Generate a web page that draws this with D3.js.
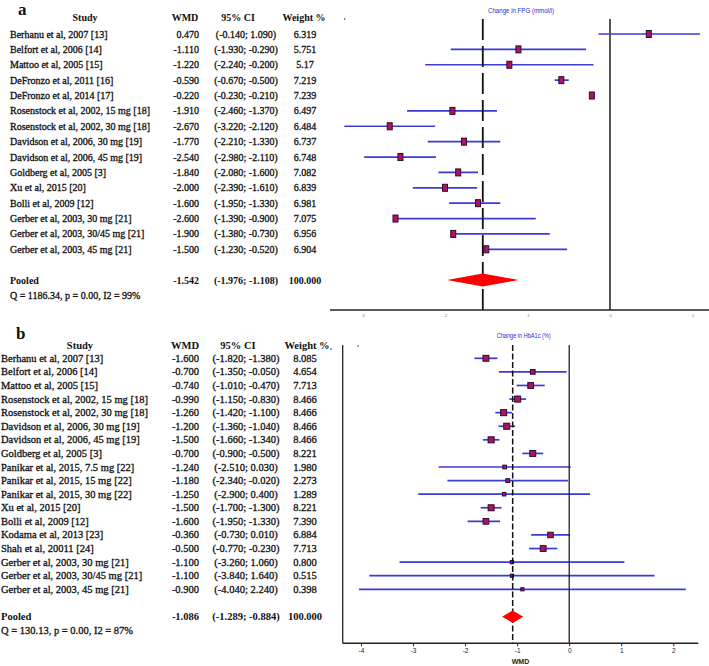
<!DOCTYPE html>
<html>
<head>
<meta charset="utf-8">
<script src="https://cdn.jsdelivr.net/npm/d3@7"></script>
<style>
  html, body { margin: 0; padding: 0; background: #fff; }
  svg { display: block; }
  .tbl { font-family: "Liberation Serif", "Times New Roman", serif; fill: #111; }
  .thick { stroke: #111; stroke-width: 0.3px; }
</style>
</head>
<body>
<svg id="chart" width="709" height="666"></svg>
<script>
// ---------------- Panel a: Change in FPG ----------------
const studiesA = ["Berhanu et al, 2007 [13]", "Belfort et al, 2006 [14]", "Mattoo et al, 2005 [15]",
  "DeFronzo et al, 2011 [16]", "DeFronzo et al, 2014 [17]", "Rosenstock et al, 2002, 15 mg [18]",
  "Rosenstock et al, 2002,  30 mg [18]", "Davidson et al, 2006, 30 mg [19]", "Davidson et al, 2006, 45 mg [19]",
  "Goldberg et al, 2005 [3]", "Xu et al, 2015 [20]", "Bolli et al, 2009 [12]",
  "Gerber et al, 2003, 30 mg [21]", "Gerber et al, 2003, 30/45 mg [21]", "Gerber et al, 2003, 45 mg [21]"];
const wmdA = [0.470, -1.110, -1.220, -0.590, -0.220, -1.910, -2.670, -1.770, -2.540, -1.840, -2.000, -1.600, -2.600, -1.900, -1.500];
const lowA = [-0.140, -1.930, -2.240, -0.670, -0.230, -2.460, -3.220, -2.210, -2.980, -2.080, -2.390, -1.950, -1.390, -1.380, -1.230];
const highA = [1.090, -0.290, -0.200, -0.500, -0.210, -1.370, -2.120, -1.330, -2.110, -1.600, -1.610, -1.330, -0.900, -0.730, -0.520];
const weightA = ["6.319", "5.751", "5.17", "7.219", "7.239", "6.497", "6.484", "6.737", "6.748", "7.082", "6.839", "6.981", "7.075", "6.956", "6.904"];
const pooledA = { wmd: -1.542, low: -1.976, high: -1.108, weight: "100.000" };
const hetA = "Q = 1186.34, p = 0.00, I2 = 99%";
const ticksA = [-3, -2, -1, 0, 1];
const titleA = "Change in FPG (mmol/l)";

// ---------------- Panel b: Change in HbA1c ----------------
const studiesB = ["Berhanu et al, 2007 [13]", "Belfort et al, 2006 [14]", "Mattoo et al, 2005 [15]",
  "Rosenstock et al, 2002, 15 mg [18]", "Rosenstock et al, 2002,  30 mg [18]", "Davidson et al, 2006, 30 mg [19]",
  "Davidson et al, 2006, 45 mg [19]", "Goldberg et al, 2005 [3]", "Panikar et al, 2015, 7.5 mg [22]",
  "Panikar et al, 2015, 15 mg [22]", "Panikar et al, 2015, 30 mg [22]", "Xu et al, 2015 [20]",
  "Bolli et al, 2009 [12]", "Kodama et al, 2013 [23]", "Shah et al, 20011 [24]",
  "Gerber et al, 2003, 30 mg [21]", "Gerber et al, 2003, 30/45 mg [21]", "Gerber et al, 2003, 45 mg [21]"];
const wmdB = [-1.600, -0.700, -0.740, -0.990, -1.260, -1.200, -1.500, -0.700, -1.240, -1.180, -1.250, -1.500, -1.600, -0.360, -0.500, -1.100, -1.100, -0.900];
const lowB = [-1.820, -1.350, -1.010, -1.150, -1.420, -1.360, -1.660, -0.900, -2.510, -2.340, -2.900, -1.700, -1.950, -0.730, -0.770, -3.260, -3.840, -4.040];
const highB = [-1.380, -0.050, -0.470, -0.830, -1.100, -1.040, -1.340, -0.500, 0.030, -0.020, 0.400, -1.300, -1.330, 0.010, -0.230, 1.060, 1.640, 2.240];
const weightB = ["8.085", "4.654", "7.713", "8.466", "8.466", "8.466", "8.466", "8.221", "1.980", "2.273", "1.289", "8.221", "7.390", "6.884", "7.713", "0.800", "0.515", "0.398"];
const pooledB = { wmd: -1.086, low: -1.289, high: -0.884, weight: "100.000" };
const hetB = "Q = 130.13, p = 0.00, I2 = 87%";
const ticksB = [-4, -3, -2, -1, 0, 1, 2];
const titleB = "Change in HbA1c (%)";
const xLabelB = "WMD";

const headers = ["Study", "WMD", "95% CI", "Weight %"];

const svg = d3.select("#chart");
svg.append("rect").attr("width", 709).attr("height", 666).attr("fill", "#fff");

const fmt = v => v.toFixed(3);
const ciText = (l, h) => "(" + fmt(l) + "; " + fmt(h) + ")";

function drawPanel(cfg) {
  const g = svg.append("g");
  const n = cfg.studies.length;
  const y = d3.scaleLinear().domain([0, n - 1]).range([cfg.yFirst, cfg.yLast]);
  const x = d3.scaleLinear().domain(cfg.xDomain).range(cfg.xRange);

  // panel letter
  g.append("text").attr("class", "tbl").attr("x", cfg.letterX).attr("y", cfg.letterY)
    .attr("font-size", 17).attr("font-weight", "bold").text(cfg.letter);

  // header
  const hy = cfg.headerY;
  const hcols = [cfg.colStudyHead, cfg.colWmdHead, cfg.colCiHead, cfg.colWtHead];
  headers.forEach((h, i) => {
    g.append("text").attr("class", "tbl").attr("x", hcols[i]).attr("y", hy + 3.5)
      .attr("text-anchor", "middle").attr("font-size", cfg.fs).attr("font-weight", "bold").text(h);
  });

  // rows
  const rows = g.selectAll("g.row").data(cfg.studies).join("g").attr("class", "row");
  rows.append("text").attr("class", "tbl thick").attr("x", cfg.colStudy).attr("y", (d, i) => y(i) + 3.5)
    .attr("font-size", cfg.fs).text(d => d);
  rows.append("text").attr("class", "tbl thick").attr("x", cfg.colWmd).attr("y", (d, i) => y(i) + 3.5)
    .attr("text-anchor", "end").attr("font-size", cfg.fs)
    .text((d, i) => fmt(cfg.wmd[i]));
  rows.append("text").attr("class", "tbl thick").attr("x", cfg.colCi).attr("y", (d, i) => y(i) + 3.5)
    .attr("text-anchor", "middle").attr("font-size", cfg.fs)
    .text((d, i) => ciText(cfg.low[i], cfg.high[i]));
  rows.append("text").attr("class", "tbl thick").attr("x", cfg.colWt).attr("y", (d, i) => y(i) + 3.5)
    .attr("text-anchor", "middle").attr("font-size", cfg.fs)
    .text((d, i) => cfg.weight[i]);

  // pooled row
  const py = cfg.pooledY;
  g.append("text").attr("class", "tbl").attr("x", cfg.colStudy).attr("y", py + 3.5)
    .attr("font-size", cfg.fs).attr("font-weight", "bold").text("Pooled");
  g.append("text").attr("class", "tbl").attr("x", cfg.colWmd).attr("y", py + 3.5).attr("text-anchor", "end")
    .attr("font-size", cfg.fs).attr("font-weight", "bold").text(fmt(cfg.pooled.wmd));
  g.append("text").attr("class", "tbl").attr("x", cfg.colCi).attr("y", py + 3.5).attr("text-anchor", "middle")
    .attr("font-size", cfg.fs).attr("font-weight", "bold").text(ciText(cfg.pooled.low, cfg.pooled.high));
  g.append("text").attr("class", "tbl").attr("x", cfg.colWt).attr("y", py + 3.5).attr("text-anchor", "middle")
    .attr("font-size", cfg.fs).attr("font-weight", "bold").text(cfg.pooled.weight);
  g.append("text").attr("class", "tbl thick").attr("x", cfg.colStudy).attr("y", cfg.hetY + 3.5)
    .attr("font-size", cfg.fs).text(cfg.het);

  // plot title
  g.append("text").attr("x", cfg.titleX).attr("y", cfg.titleY).attr("text-anchor", "middle")
    .attr("font-family", "Liberation Sans, Arial, sans-serif").attr("font-size", 7.5)
    .attr("fill", "#2b2bd0").attr("textLength", cfg.titleLen).attr("lengthAdjust", "spacingAndGlyphs")
    .text(cfg.title);

  // no-effect line
  g.append("line").attr("x1", x(0)).attr("x2", x(0)).attr("y1", cfg.plotTop).attr("y2", cfg.axisY)
    .attr("stroke", cfg.zeroColor).attr("stroke-width", cfg.zeroWidth);
  // pooled dashed line
  g.append("line").attr("x1", x(cfg.pooled.wmd)).attr("x2", x(cfg.pooled.wmd))
    .attr("y1", cfg.plotTop).attr("y2", cfg.axisY)
    .attr("stroke", "#111").attr("stroke-width", cfg.dashWidth).attr("stroke-dasharray", cfg.dash);

  // CI lines
  rows.append("line")
    .attr("x1", (d, i) => x(Math.min(cfg.low[i], cfg.wmd[i])))
    .attr("x2", (d, i) => x(Math.max(cfg.high[i], cfg.wmd[i])))
    .attr("y1", (d, i) => y(i)).attr("y2", (d, i) => y(i))
    .attr("stroke", "#3b3bd6").attr("stroke-width", 1.7);
  // markers
  rows.append("rect")
    .attr("x", (d, i) => x(cfg.wmd[i]) - cfg.mw(i) / 2)
    .attr("y", (d, i) => y(i) - cfg.mh(i) / 2)
    .attr("width", (d, i) => cfg.mw(i)).attr("height", (d, i) => cfg.mh(i))
    .attr("fill", "#b01458").attr("stroke", "#2a0838").attr("stroke-width", 1);

  // pooled diamond
  const dh = cfg.diamondH / 2;
  g.append("path")
    .attr("d", `M${x(cfg.pooled.low)},${py} L${x(cfg.pooled.wmd)},${py - dh} L${x(cfg.pooled.high)},${py} L${x(cfg.pooled.wmd)},${py + dh} Z`)
    .attr("fill", "#ff0000");

  // axis
  const axis = d3.axisBottom(x).tickValues(cfg.ticks).tickFormat(d => String(d)).tickSize(cfg.tickSize);
  const ag = g.append("g").attr("transform", `translate(0,${cfg.axisY})`).call(axis);
  ag.select(".domain").remove();
  ag.selectAll(".tick line").attr("stroke", "#222");
  ag.selectAll(".tick text").attr("font-family", "Liberation Sans, Arial, sans-serif")
    .attr("font-size", cfg.tickFs).attr("fill", cfg.tickColor).attr("y", cfg.tickLabelDy);
  g.append("line").attr("x1", cfg.axisX1).attr("x2", cfg.axisX2).attr("y1", cfg.axisY).attr("y2", cfg.axisY)
    .attr("stroke", "#222").attr("stroke-width", 1.5);
  return { g, x, y };
}

// panel a
drawPanel({
  letter: "a", letterX: 18, letterY: 15,
  studies: studiesA, wmd: wmdA, low: lowA, high: highA, weight: weightA, pooled: pooledA, het: hetA,
  ticks: ticksA, title: titleA, titleX: 521, titleY: 12.5, titleLen: 66,
  yFirst: 34, yLast: 249.3, headerY: 17.5, pooledY: 280, hetY: 295.5, plotTop: 19, axisY: 310,
  xDomain: [-3, 1], xRange: [362.5, 692.5],
  fs: 10,
  colStudy: 10, colStudyHead: 85, colWmd: 199, colWmdHead: 185, colCi: 246, colCiHead: 238, colWt: 305, colWtHead: 304,
  zeroColor: "#555", zeroWidth: 2, dash: "21,6", dashWidth: 1.8,
  mw: () => 5, mh: () => 7, diamondH: 13,
  tickSize: 0, tickFs: 4, tickColor: "#777", tickLabelDy: 4,
  axisX1: 330, axisX2: 709
});

// panel b
drawPanel({
  letter: "b", letterX: 16, letterY: 339,
  studies: studiesB, wmd: wmdB, low: lowB, high: highB, weight: weightB, pooled: pooledB, het: hetB,
  ticks: ticksB, title: titleB, titleX: 523.7, titleY: 338, titleLen: 54,
  yFirst: 358.3, yLast: 589.3, headerY: 345, pooledY: 616.7, hetY: 630.5, plotTop: 345, axisY: 643.3,
  xDomain: [-4, 2], xRange: [361, 673.3],
  fs: 10.5,
  colStudy: 1, colStudyHead: 80, colWmd: 199, colWmdHead: 185, colCi: 246, colCiHead: 238, colWt: 305, colWtHead: 307,
  zeroColor: "#111", zeroWidth: 1.2, dash: "6,2.5", dashWidth: 1.5,
  mw: i => 3 + weightB[i] * 0.36, mh: i => 3 + weightB[i] * 0.36, diamondH: 12.5,
  tickSize: 3, tickFs: 6.5, tickColor: "#222", tickLabelDy: 5,
  axisX1: 342.7, axisX2: 698.3
});
// panel b frame left edge & axis title
svg.append("line").attr("x1", 342.7).attr("x2", 342.7).attr("y1", 345).attr("y2", 643.3)
  .attr("stroke", "#222").attr("stroke-width", 1.3);
svg.append("text").attr("x", 520.5).attr("y", 664).attr("text-anchor", "middle")
  .attr("font-family", "Liberation Sans, Arial, sans-serif").attr("font-size", 7).attr("font-weight", "bold")
  .attr("fill", "#222").text(xLabelB);
// small stray dots present in the original figure
[[344.7, 19], [331, 349], [358, 346]].forEach(p => {
  svg.append("circle").attr("cx", p[0]).attr("cy", p[1]).attr("r", 0.8).attr("fill", "#333");
});
</script>
</body>
</html>
